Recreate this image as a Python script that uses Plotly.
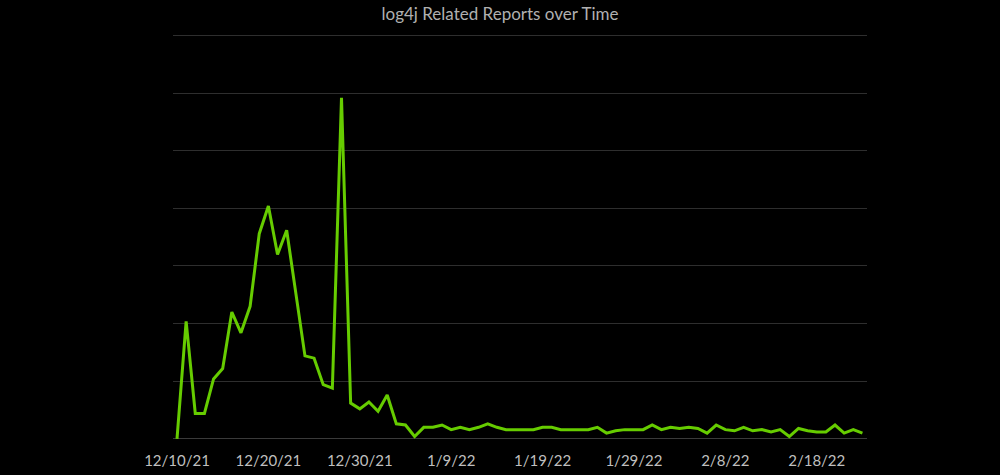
import plotly.graph_objects as go
import pandas as pd

title_text = "log4j Related Reports over Time"
start_date = "2021-12-10"
report_counts = [
    0, 102, 22, 22, 52, 61, 110, 92, 115, 178,
    202, 160, 181, 127, 72, 70, 47, 44, 296, 31,
    26, 32, 24, 38, 13, 12, 2, 10, 10, 12,
    8, 10, 8, 10, 13, 10, 8, 8, 8, 8,
    10, 10, 8, 8, 8, 8, 10, 5, 7, 8,
    8, 8, 12, 8, 10, 9, 10, 9, 5, 12,
    8, 7, 10, 7, 8, 6, 8, 2, 9, 7,
    6, 6, 12, 5, 8, 5,
]
dates = pd.date_range(start_date, periods=len(report_counts), freq="D")
tick_dates = ["2021-12-10", "2021-12-20", "2021-12-30", "2022-01-09",
              "2022-01-19", "2022-01-29", "2022-02-08", "2022-02-18"]
tick_labels = ["12/10/21", "12/20/21", "12/30/21", "1/9/22",
               "1/19/22", "1/29/22", "2/8/22", "2/18/22"]

fig = go.Figure()
fig.add_trace(go.Scatter(
    x=dates, y=report_counts, mode="lines",
    line=dict(color="#66CC00", width=3),
    hoverinfo="x+y",
))

x_lo = dates[0] - pd.Timedelta(hours=10.5)
x_hi = dates[-1] + pd.Timedelta(hours=12)

fig.update_layout(
    width=1000, height=475,
    paper_bgcolor="black", plot_bgcolor="black",
    margin=dict(l=173, r=133, t=31.5, b=34.8, autoexpand=False),
    showlegend=False,
    font=dict(family="Lato, Open Sans, sans-serif", color="#bfbfbf"),
    title=dict(text=title_text, x=0.5, xanchor="center", xref="container",
               y=1 - 14 / 475, yanchor="middle", yref="container",
               font=dict(size=17, color="#b0b0b0")),
    xaxis=dict(
        type="date", range=[x_lo, x_hi], automargin=False,
        tickvals=tick_dates, ticktext=tick_labels,
        showgrid=False, zeroline=False, showline=False,
        ticks="", ticklabelstandoff=10,
        tickfont=dict(size=15, color="#bfbfbf"),
    ),
    yaxis=dict(
        range=[-1, 353], dtick=50, showticklabels=False, automargin=False,
        showgrid=True, gridcolor="#2e2e2e", gridwidth=1,
        zeroline=True, zerolinecolor="#3a3a3a", zerolinewidth=1,
        showline=False, fixedrange=True,
    ),
)

fig.write_html(
    "out.html",
    config={"displayModeBar": False},
    post_script="document.body.style.margin='0';document.body.style.background='black';",
)
